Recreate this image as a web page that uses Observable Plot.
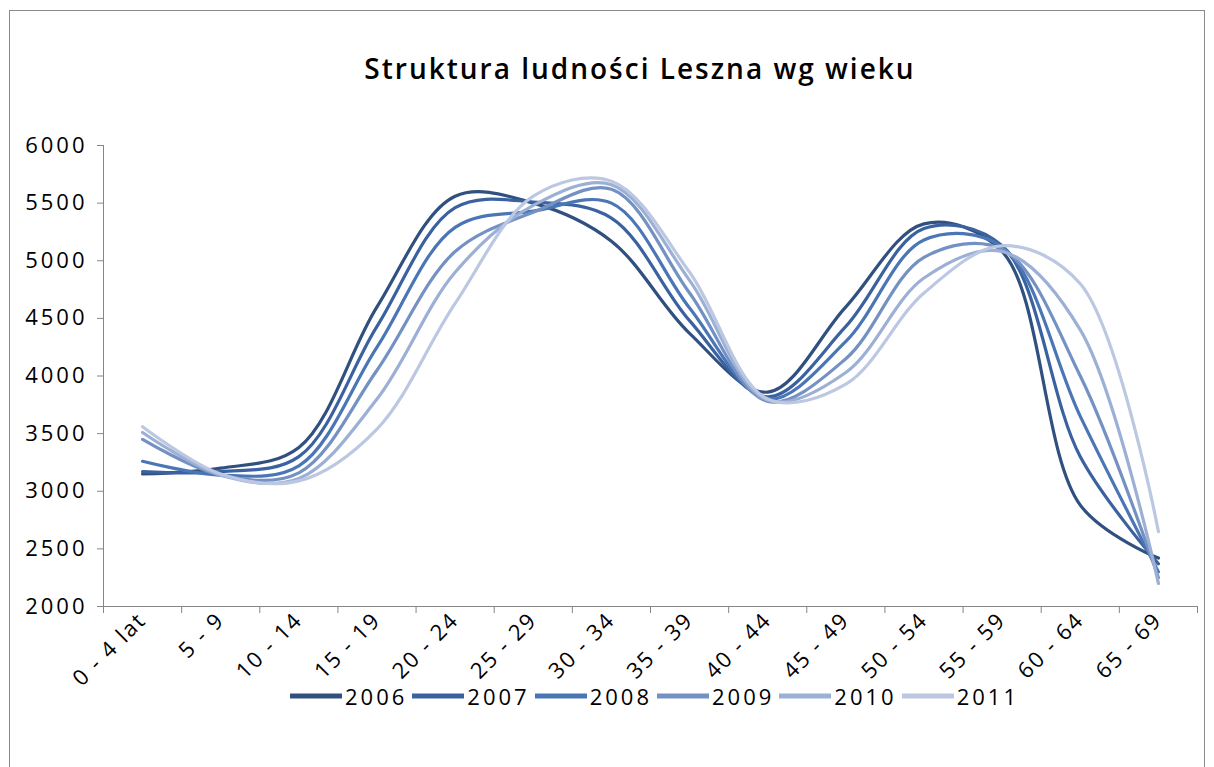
<!DOCTYPE html>
<html>
<head>
<meta charset="utf-8">
<script src="https://cdn.jsdelivr.net/npm/d3@7"></script>
<script src="https://cdn.jsdelivr.net/npm/@observablehq/plot@0.6"></script>
<style>
  html, body { margin: 0; padding: 0; background: #fff; width: 1214px; height: 767px; overflow: hidden; }
  #frame { position: absolute; left: 9px; top: 10px; width: 1196px; height: 770px; border: 1px solid #8a8a8a; box-sizing: border-box; }
  #title { position: absolute; left: 33px; top: 49px; width: 1214px; text-align: center; font-family: "Open Sans", sans-serif; font-weight: 600; font-size: 28px; letter-spacing: 2px; color: #000; }
  #chart { position: absolute; left: 0; top: 110px; }
  #chart g[aria-label="y-axis tick label"] text { letter-spacing: 3px; }
  #chart g[aria-label="x-axis tick label"] text { letter-spacing: 2px; }
  #legend { position: absolute; left: 47px; top: 681px; width: 1214px; display: flex; justify-content: center; font-family: "Open Sans", sans-serif; font-size: 22px; letter-spacing: 3px; color: #000; }
  .item { display: flex; align-items: center; margin: 0 2px; }
  .item svg { margin-right: 2px; }
</style>
</head>
<body>
<div id="frame"></div>
<div id="title">Struktura ludności Leszna wg wieku</div>
<div id="chart"></div>
<div id="legend"></div>
<script>
const categories = ["0 - 4 lat", "5 - 9", "10 - 14", "15 - 19", "20 - 24", "25 - 29", "30 - 34", "35 - 39", "40 - 44", "45 - 49", "50 - 54", "55 - 59", "60 - 64", "65 - 69"];
const years = ["2006", "2007", "2008", "2009", "2010", "2011"];
const v2006 = [3150, 3200, 3380, 4600, 5560, 5500, 5170, 4370, 3860, 4600, 5320, 5080, 2880, 2420];
const v2007 = [3170, 3170, 3300, 4430, 5460, 5510, 5370, 4480, 3820, 4430, 5280, 5130, 3300, 2370];
const v2008 = [3260, 3140, 3220, 4250, 5290, 5430, 5500, 4590, 3800, 4300, 5180, 5120, 3650, 2300];
const v2009 = [3450, 3140, 3160, 4050, 5080, 5420, 5620, 4720, 3780, 4150, 5030, 5100, 4000, 2250];
const v2010 = [3510, 3140, 3110, 3800, 4900, 5480, 5660, 4830, 3790, 4030, 4850, 5080, 4400, 2200];
const v2011 = [3560, 3150, 3090, 3540, 4630, 5560, 5690, 4900, 3800, 3930, 4720, 5130, 4800, 2650];
const yTicks = [2000, 2500, 3000, 3500, 4000, 4500, 5000, 5500, 6000];
const colors = ["#30507f", "#3b62a0", "#4a76b5", "#7491c4", "#9cb0d6", "#bcc8e2"];

const seriesValues = [v2006, v2007, v2008, v2009, v2010, v2011];
const data = years.flatMap((yr, s) => seriesValues[s].map((v, i) => ({year: yr, pos: i + 0.5, value: v})));
const n = categories.length;
const boundaries = d3.range(n + 1);
const centers = d3.range(n).map(i => i + 0.5);

const chart = Plot.plot({
  width: 1214,
  height: 560,
  marginTop: 35,
  marginBottom: 64,
  marginLeft: 103,
  marginRight: 17,
  x: {domain: [0, n]},
  y: {domain: [2000, 6000]},
  color: {domain: years, range: colors},
  style: {fontFamily: "Open Sans, sans-serif", fontSize: "22px", color: "#000", background: "transparent", overflow: "visible"},
  marks: [
    Plot.frame({anchor: "left", stroke: "#868686"}),
    Plot.frame({anchor: "bottom", stroke: "#868686"}),
    Plot.axisY({ticks: yTicks, tickSize: 6, tickPadding: 10, label: null, stroke: "#868686", fill: "#000", fontSize: 22, tickFormat: d => String(d)}),
    Plot.axisX({ticks: boundaries, tickFormat: () => "", tickSize: 7, stroke: "#868686", label: null}),
    Plot.axisX({ticks: centers, tickFormat: d => categories[Math.floor(d)], tickSize: 0, tickPadding: 10, tickRotate: -45, label: null, fill: "#000", fontSize: 22}),
    Plot.line(data, {x: "pos", y: "value", stroke: "year", z: "year", curve: "catmull-rom", strokeWidth: 3.2, strokeLinejoin: "round", strokeLinecap: "round"})
  ]
});
document.getElementById("chart").appendChild(chart);

const legend = document.getElementById("legend");
years.forEach((yr, i) => {
  const item = document.createElement("div");
  item.className = "item";
  item.innerHTML = `<svg width="54" height="10"><line x1="1" y1="5" x2="53" y2="5" stroke="${colors[i]}" stroke-width="5"/></svg><span>${yr}</span>`;
  legend.appendChild(item);
});
</script>
</body>
</html>
